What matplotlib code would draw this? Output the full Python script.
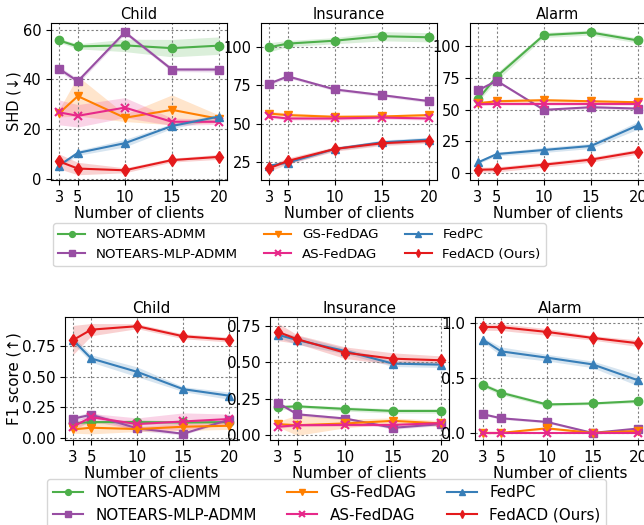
import numpy as np
import matplotlib
matplotlib.use("Agg")
import matplotlib.pyplot as plt

clients = [3, 5, 10, 15, 20]
methods = ["NOTEARS-ADMM", "NOTEARS-MLP-ADMM", "GS-FedDAG", "AS-FedDAG", "FedPC", "FedACD (Ours)"]
datasets = ["Child", "Insurance", "Alarm"]

# rows follow the order of `methods`
shd_child_mean = [
    [55.7, 53.3, 53.7, 52.6, 53.6],
    [44.3, 39.3, 59.0, 44.0, 44.0],
    [26.4, 33.3, 24.6, 27.8, 24.2],
    [26.8, 25.4, 28.7, 23.0, 23.0],
    [5.4, 10.5, 14.4, 21.3, 25.1],
    [7.1, 4.2, 3.5, 7.6, 8.9],
]
shd_child_std = [
    [0.8, 1.0, 2.5, 3.5, 3.5],
    [1.0, 1.0, 0.8, 0.8, 1.0],
    [1.5, 8.0, 1.5, 6.0, 1.5],
    [5.0, 4.5, 4.0, 1.5, 1.0],
    [0.5, 1.0, 1.5, 1.0, 1.0],
    [3.0, 2.5, 1.0, 0.8, 1.0],
]
shd_insurance_mean = [
    [99.8, 102.2, 104.1, 107.0, 106.3],
    [76.1, 80.9, 72.4, 68.7, 64.8],
    [56.7, 55.7, 54.6, 54.8, 55.7],
    [54.8, 53.5, 53.5, 54.1, 53.5],
    [22.8, 24.8, 33.7, 38.0, 39.8],
    [21.1, 25.9, 33.7, 37.4, 38.9],
]
shd_insurance_std = [
    [3.0, 2.0, 2.0, 3.0, 3.0],
    [1.0, 1.0, 1.0, 1.0, 1.0],
    [1.5, 1.5, 1.0, 1.0, 1.0],
    [1.0, 1.0, 1.0, 1.0, 1.0],
    [1.0, 1.0, 1.0, 1.5, 1.5],
    [2.0, 2.0, 1.5, 1.5, 1.5],
]
shd_alarm_mean = [
    [58.3, 76.3, 109.0, 111.0, 104.7],
    [65.4, 72.8, 49.9, 52.0, 50.9],
    [55.1, 56.7, 57.5, 56.7, 55.9],
    [54.4, 54.6, 54.6, 54.6, 54.6],
    [8.4, 15.0, 18.2, 21.4, 37.7],
    [2.6, 2.9, 6.6, 10.6, 16.9],
]
shd_alarm_std = [
    [2.0, 3.0, 2.0, 2.0, 2.0],
    [1.0, 1.0, 1.0, 1.0, 1.0],
    [1.5, 1.5, 1.5, 1.0, 1.0],
    [1.0, 1.0, 1.0, 1.0, 1.0],
    [1.0, 1.5, 2.0, 2.0, 3.0],
    [2.0, 2.0, 2.0, 2.0, 2.0],
]

f1_child_mean = [
    [0.120, 0.130, 0.130, 0.127, 0.130],
    [0.157, 0.190, 0.079, 0.035, 0.150],
    [0.070, 0.084, 0.073, 0.092, 0.100],
    [0.092, 0.170, 0.114, 0.135, 0.155],
    [0.800, 0.648, 0.539, 0.398, 0.345],
    [0.797, 0.883, 0.911, 0.829, 0.802],
]
f1_child_std = [
    [0.02, 0.01, 0.02, 0.01, 0.01],
    [0.02, 0.02, 0.02, 0.01, 0.01],
    [0.03, 0.05, 0.02, 0.03, 0.03],
    [0.03, 0.03, 0.05, 0.07, 0.04],
    [0.03, 0.03, 0.04, 0.02, 0.03],
    [0.12, 0.05, 0.02, 0.02, 0.02],
]
f1_insurance_mean = [
    [0.191, 0.198, 0.180, 0.166, 0.166],
    [0.221, 0.143, 0.114, 0.050, 0.075],
    [0.075, 0.068, 0.080, 0.098, 0.080],
    [0.057, 0.068, 0.070, 0.070, 0.082],
    [0.690, 0.654, 0.579, 0.492, 0.485],
    [0.710, 0.660, 0.567, 0.526, 0.515],
]
f1_insurance_std = [
    [0.02, 0.01, 0.015, 0.015, 0.015],
    [0.01, 0.01, 0.01, 0.01, 0.01],
    [0.02, 0.07, 0.03, 0.02, 0.02],
    [0.01, 0.01, 0.01, 0.01, 0.01],
    [0.02, 0.03, 0.02, 0.02, 0.02],
    [0.06, 0.03, 0.04, 0.04, 0.03],
]
f1_alarm_mean = [
    [0.436, 0.364, 0.258, 0.267, 0.288],
    [0.170, 0.133, 0.100, 0.000, 0.040],
    [0.000, 0.000, 0.042, 0.000, 0.018],
    [0.000, 0.000, 0.000, 0.000, 0.000],
    [0.845, 0.739, 0.682, 0.621, 0.476],
    [0.960, 0.958, 0.915, 0.861, 0.812],
]
f1_alarm_std = [
    [0.02, 0.02, 0.015, 0.01, 0.015],
    [0.01, 0.01, 0.01, 0.01, 0.01],
    [0.01, 0.01, 0.01, 0.01, 0.01],
    [0.0, 0.0, 0.0, 0.0, 0.0],
    [0.02, 0.04, 0.03, 0.03, 0.05],
    [0.03, 0.03, 0.03, 0.02, 0.03],
]

colors = ["#4daf4a", "#984ea3", "#ff7f00", "#e7298a", "#377eb8", "#e41a1c"]
markers = ["o", "s", "v", "x", "^", "d"]

W, H = 644, 525
fig = plt.figure(figsize=(W / 100, H / 100), dpi=100)


def px_axes(left, top, right, bottom):
    return fig.add_axes([left / W, 1 - bottom / H, (right - left) / W, (bottom - top) / H])


def draw(ax, means, stds, fs, ylim, yticks):
    for m, s, c, mk, lab in zip(means, stds, colors, markers, methods):
        m = np.array(m)
        s = np.array(s)
        ax.fill_between(clients, m - s, m + s, color=c, alpha=0.2, lw=0)
        ax.plot(clients, m, color=c, marker=mk, ms=6, lw=1.5, label=lab,
                mew=1.5 if mk == "x" else 1)
    ax.set_xticks(clients)
    ax.set_yticks(yticks)
    ax.set_ylim(ylim)
    ax.set_xlim(2.15, 20.85)
    ax.grid(True, ls=(0, (2, 2)), color="gray", lw=0.8)
    ax.tick_params(labelsize=fs)
    ax.set_xlabel("Number of clients", fontsize=fs, labelpad=1)


# top figure: SHD
fs_top = 10.5
top_panels = [
    (51, 227, shd_child_mean, shd_child_std, (-0.4, 62.7), [0, 20, 40, 60]),
    (261, 437, shd_insurance_mean, shd_insurance_std, (13.5, 115.6), [25, 50, 75, 100]),
    (470, 646, shd_alarm_mean, shd_alarm_std, (-5.5, 118.5), [0, 25, 50, 75, 100]),
]
for i, (l, r, mm, ss, yl, yt) in enumerate(top_panels):
    ax = px_axes(l, 23, r, 180)
    draw(ax, mm, ss, fs_top, yl, yt)
    ax.set_title(datasets[i], fontsize=fs_top, pad=3)
    if i == 0:
        ax.set_ylabel("SHD (↓)", fontsize=fs_top)
        ax.yaxis.set_label_coords((22 - l) / (r - l), 0.5)
        handles, labels = ax.get_legend_handles_labels()
fig.legend(handles, labels, ncol=3, loc="upper left", fontsize=9.6,
           bbox_to_anchor=(53 / W, 1 - 223 / H), borderaxespad=0, markerscale=0.7)

# bottom figure: F1
fs_bot = 10.9
bot_panels = [
    (65, 237, f1_child_mean, f1_child_std, (-0.016, 0.986), [0, 0.25, 0.5, 0.75]),
    (270, 449, f1_insurance_mean, f1_insurance_std, (-0.034, 0.813), [0, 0.25, 0.5, 0.75]),
    (475, 646, f1_alarm_mean, f1_alarm_std, (-0.064, 1.05), [0, 0.5, 1.0]),
]
for i, (l, r, mm, ss, yl, yt) in enumerate(bot_panels):
    ax = px_axes(l, 317, r, 440)
    draw(ax, mm, ss, fs_bot, yl, yt)
    ax.set_title(datasets[i], fontsize=fs_bot, pad=3)
    if i == 0:
        ax.set_ylabel("F1 score (↑)", fontsize=fs_bot)
        ax.yaxis.set_label_coords((22 - l) / (r - l), 0.5)
fig.legend(handles, labels, ncol=3, loc="upper left", fontsize=10.9,
           bbox_to_anchor=(47 / W, 1 - 479 / H), borderaxespad=0, markerscale=0.7)

fig.savefig("out.png", dpi=100)
